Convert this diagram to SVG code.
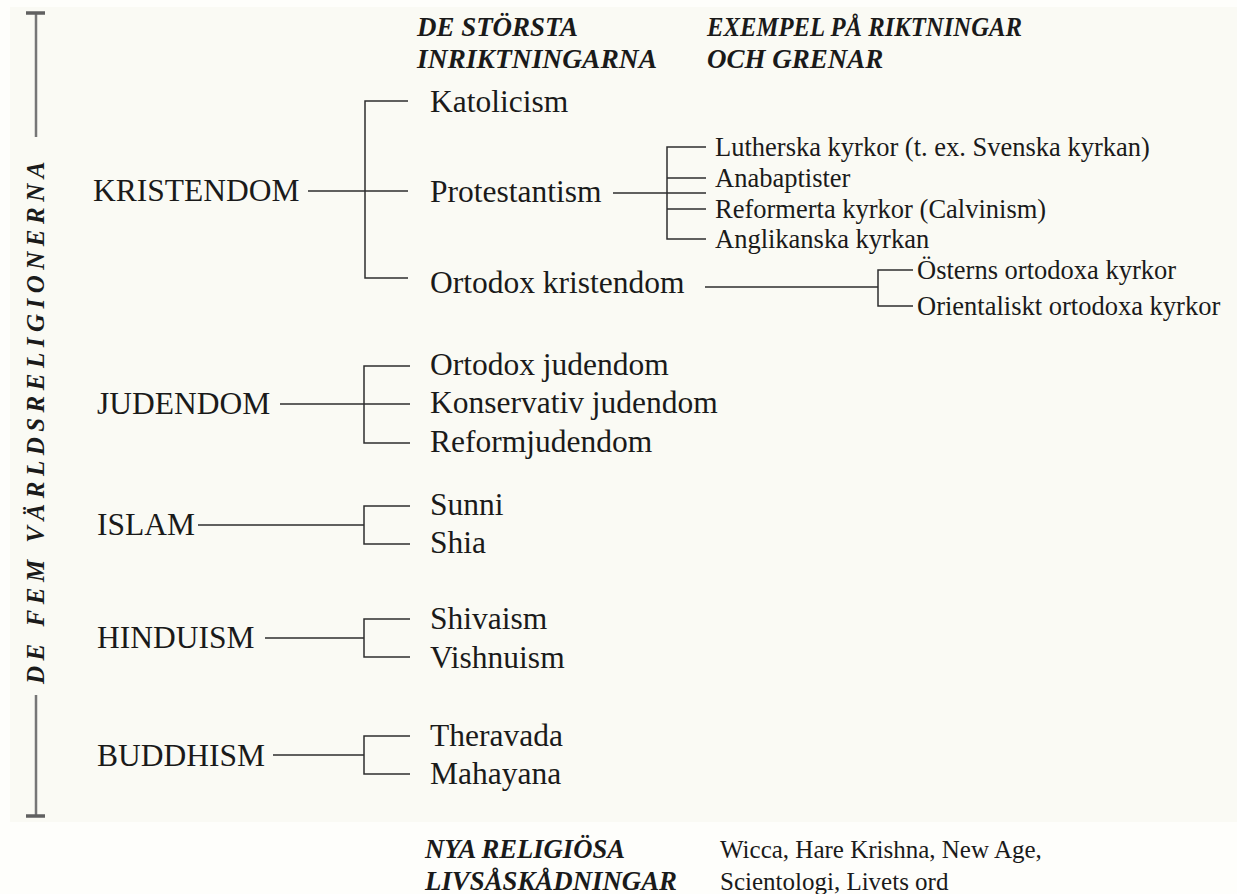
<svg xmlns="http://www.w3.org/2000/svg" width="1237" height="894" viewBox="0 0 1237 894">
<style>
text{font-family:"Liberation Serif","Times New Roman",serif;fill:#1a1a1a}
.l1{font-size:31.5px}
.l2{font-size:31.5px}
.l3{font-size:26.5px}
.hd{font-size:27px;font-style:italic;font-weight:bold}
.ft{font-size:25px}
.vt{font-size:25px;font-style:italic;font-weight:bold;letter-spacing:5.5px}
.conn path{stroke:#2e2e2e;stroke-width:1.5;fill:none}
.brk{stroke:#767676;stroke-width:2.5;fill:none}
.cap{stroke:#606060;stroke-width:3.5;fill:none}
</style>
<rect x="0" y="0" width="1237" height="894" fill="#fefefb"/>
<rect x="10" y="7" width="1227" height="815" fill="#fafaf4"/>
<g id="side-label">
<path class="brk" d="M36,13 V137 M36,695 V816"/>
<path class="cap" d="M26,13 H45 M26,816 H45"/>
<text class="vt" text-anchor="middle" transform="translate(44,420) rotate(-90)">DE FEM VÄRLDSRELIGIONERNA</text>
</g>
<g id="headings">
<text class="hd" x="417" y="36" textLength="161" lengthAdjust="spacingAndGlyphs">DE STÖRSTA</text>
<text class="hd" x="417" y="68" textLength="240" lengthAdjust="spacingAndGlyphs">INRIKTNINGARNA</text>
<text class="hd" x="707" y="36" textLength="315" lengthAdjust="spacingAndGlyphs">EXEMPEL PÅ RIKTNINGAR</text>
<text class="hd" x="707" y="68">OCH GRENAR</text>
</g>
<g class="conn" id="connectors">
<path d="M308,191 H408 M408,101 H365 V278 H408"/>
<path d="M613,193 H706 M706,147 H667 V239 H706 M667,178 H706 M667,209 H706"/>
<path d="M705,287 H878 M913,270 H878 V306 H913"/>
<path d="M280,404 H410 M410,366 H364 V443 H410"/>
<path d="M198,525 H364 M410,506 H364 V544 H410"/>
<path d="M265,638 H364 M410,619 H364 V657 H410"/>
<path d="M273,755 H364 M410,736 H364 V774 H410"/>
</g>
<g id="kristendom"><text class="l1" x="93" y="201">KRISTENDOM</text></g>
<g id="katolicism"><text class="l2" x="430" y="112">Katolicism</text></g>
<g id="protestantism"><text class="l2" x="430" y="202">Protestantism</text></g>
<g id="ortodox-kristendom"><text class="l2" x="430" y="293">Ortodox kristendom</text></g>
<g id="lutherska"><text class="l3" x="715" y="156">Lutherska kyrkor (t. ex. Svenska kyrkan)</text></g>
<g id="anabaptister"><text class="l3" x="715" y="187">Anabaptister</text></g>
<g id="reformerta"><text class="l3" x="715" y="218">Reformerta kyrkor (Calvinism)</text></g>
<g id="anglikanska"><text class="l3" x="715" y="248">Anglikanska kyrkan</text></g>
<g id="osterns"><text class="l3" x="917" y="279">Österns ortodoxa kyrkor</text></g>
<g id="orientaliskt"><text class="l3" x="917" y="315">Orientaliskt ortodoxa kyrkor</text></g>
<g id="judendom"><text class="l1" x="97" y="414">JUDENDOM</text></g>
<g id="ortodox-judendom"><text class="l2" x="430" y="375">Ortodox judendom</text></g>
<g id="konservativ-judendom"><text class="l2" x="430" y="413">Konservativ judendom</text></g>
<g id="reformjudendom"><text class="l2" x="430" y="452">Reformjudendom</text></g>
<g id="islam"><text class="l1" x="97" y="535">ISLAM</text></g>
<g id="sunni"><text class="l2" x="430" y="515">Sunni</text></g>
<g id="shia"><text class="l2" x="430" y="553">Shia</text></g>
<g id="hinduism"><text class="l1" x="97" y="648">HINDUISM</text></g>
<g id="shivaism"><text class="l2" x="430" y="629">Shivaism</text></g>
<g id="vishnuism"><text class="l2" x="430" y="668">Vishnuism</text></g>
<g id="buddhism"><text class="l1" x="97" y="766">BUDDHISM</text></g>
<g id="theravada"><text class="l2" x="430" y="746">Theravada</text></g>
<g id="mahayana"><text class="l2" x="430" y="784">Mahayana</text></g>
<g id="nya-religiosa">
<text class="hd" x="425" y="858" textLength="200" lengthAdjust="spacingAndGlyphs">NYA RELIGIÖSA</text>
<text class="hd" x="425" y="890" textLength="252" lengthAdjust="spacingAndGlyphs">LIVSÅSKÅDNINGAR</text>
</g>
<g id="nya-exempel">
<text class="ft" x="720" y="858">Wicca, Hare Krishna, New Age,</text>
<text class="ft" x="720" y="890">Scientologi, Livets ord</text>
</g>
</svg>
